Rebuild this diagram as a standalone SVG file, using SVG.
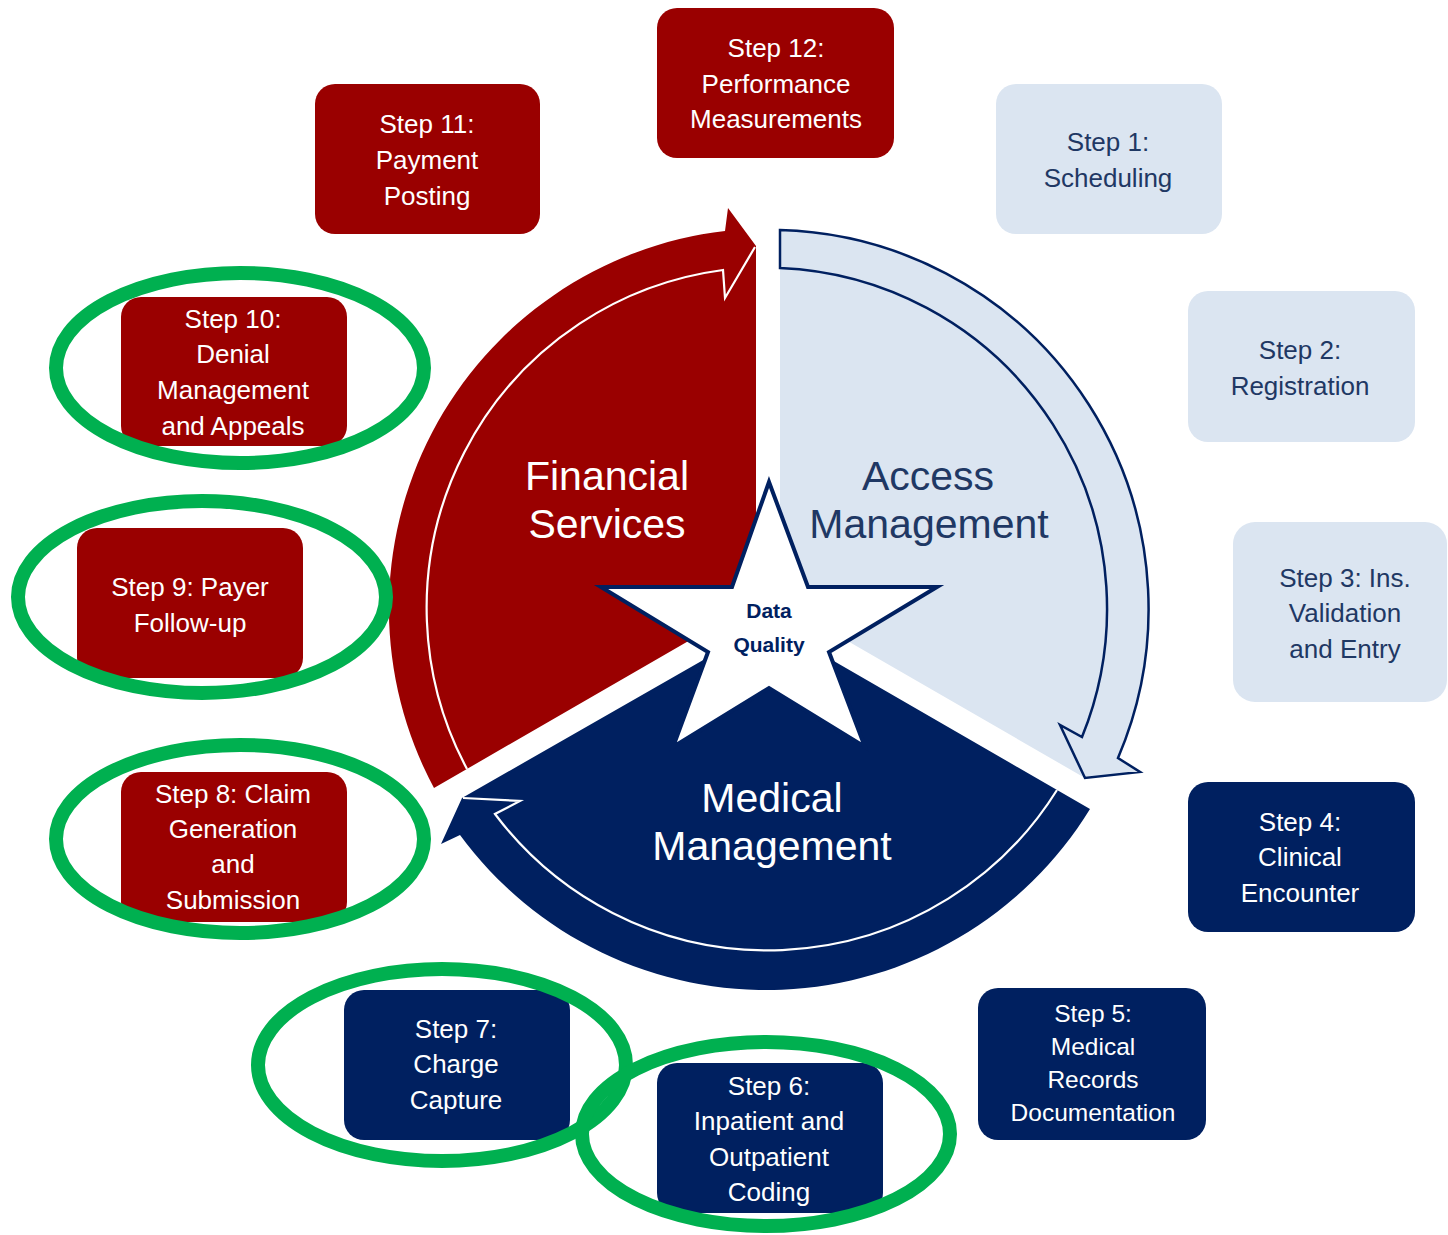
<svg xmlns="http://www.w3.org/2000/svg" width="1448" height="1235" viewBox="0 0 1448 1235">
<style>
.bg{fill:#ffffff}
.red{fill:#9a0000}
.navy{fill:#002060}
.lb{fill:#dbe5f1}
.t{font-family:"Liberation Sans",Arial,sans-serif;font-size:26px;text-anchor:middle}
.t5{font-size:24.5px}
.big{font-family:"Liberation Sans",Arial,sans-serif;font-size:41px;text-anchor:middle}
.tw{fill:#ffffff}
.tn{fill:#1f3864}
.inner{fill:none;stroke:#ffffff;stroke-width:2.2;stroke-linejoin:miter}
.outline{fill:none;stroke:#002060;stroke-width:2.5;stroke-linejoin:miter}
.ring{fill:none;stroke:#00b050;stroke-width:14}
.star{fill:#ffffff;stroke:#002060;stroke-width:4;stroke-linejoin:miter}
.sq{font-family:"Liberation Sans",Arial,sans-serif;font-size:21px;font-weight:bold;fill:#002060;text-anchor:middle}
</style>
<rect class="bg" x="0" y="0" width="1448" height="1235"/>

<g id="sector-financial">
<path class="red" d="M 756 602 L 434 788 A 380 380 0 0 1 725 231 L 728 208 L 756 246 Z"/>
</g>
<g id="sector-access">
<path class="lb" d="M 780 602 L 780 230 A 379 379 0 0 1 1118 758 L 1140 772 L 1085 778 Z"/>
</g>
<g id="sector-medical">
<path class="navy" d="M 768 623 L 1090 809 A 380 380 0 0 1 460 835 L 441 844 L 462 798 Z"/>
</g>

<g id="connectors">
<path class="inner" d="M 467 769 A 341 341 0 0 1 723 270 L 725 298 L 755 247"/>
<path class="outline" d="M 780 268 L 780 230 A 379 379 0 0 1 1118 758 L 1140 772 L 1085 778 L 1060 725 L 1082 737 A 341 341 0 0 0 780 268 Z"/>
<path class="inner" d="M 1057 790 A 341 341 0 0 1 495 814 L 520 801 L 463 798"/>
</g>

<g id="labels-sectors">
<text class="big tw" x="607" y="490">Financial</text>
<text class="big tw" x="607" y="538">Services</text>
<text class="big tn" x="928" y="490">Access</text>
<text class="big tn" x="929" y="538">Management</text>
<text class="big tw" x="772" y="812">Medical</text>
<text class="big tw" x="772" y="860">Management</text>
</g>

<g id="data-quality">
<path class="star" d="M 769 482 L 808 587 L 937 587 L 829 652 L 865 747 L 769 688 L 673 747 L 708 652 L 601 587 L 732 587 Z"/>
<text class="sq" x="769" y="618">Data</text>
<text class="sq" x="769" y="652">Quality</text>
</g>

<g id="step12">
<rect class="red" x="657" y="8" width="237" height="150" rx="20"/>
<text class="t tw" x="776" y="57">Step 12:</text>
<text class="t tw" x="776" y="93">Performance</text>
<text class="t tw" x="776" y="128">Measurements</text>
</g>
<g id="step11">
<rect class="red" x="315" y="84" width="225" height="150" rx="20"/>
<text class="t tw" x="427" y="133">Step 11:</text>
<text class="t tw" x="427" y="169">Payment</text>
<text class="t tw" x="427" y="205">Posting</text>
</g>
<g id="step1">
<rect class="lb" x="996" y="84" width="226" height="150" rx="20"/>
<text class="t tn" x="1108" y="151">Step 1:</text>
<text class="t tn" x="1108" y="187">Scheduling</text>
</g>
<g id="step2">
<rect class="lb" x="1188" y="291" width="227" height="151" rx="20"/>
<text class="t tn" x="1300" y="359">Step 2:</text>
<text class="t tn" x="1300" y="395">Registration</text>
</g>
<g id="step3">
<rect class="lb" x="1233" y="522" width="214" height="180" rx="22"/>
<text class="t tn" x="1345" y="587">Step 3: Ins.</text>
<text class="t tn" x="1345" y="622">Validation</text>
<text class="t tn" x="1345" y="658">and Entry</text>
</g>
<g id="step4">
<rect class="navy" x="1188" y="782" width="227" height="150" rx="20"/>
<text class="t tw" x="1300" y="831">Step 4:</text>
<text class="t tw" x="1300" y="866">Clinical</text>
<text class="t tw" x="1300" y="902">Encounter</text>
</g>
<g id="step5">
<rect class="navy" x="978" y="988" width="228" height="152" rx="20"/>
<text class="t t5 tw" x="1093" y="1022">Step 5:</text>
<text class="t t5 tw" x="1093" y="1055">Medical</text>
<text class="t t5 tw" x="1093" y="1088">Records</text>
<text class="t t5 tw" x="1093" y="1121">Documentation</text>
</g>
<g id="step6">
<rect class="navy" x="657" y="1063" width="226" height="150" rx="20"/>
<text class="t tw" x="769" y="1095">Step 6:</text>
<text class="t tw" x="769" y="1130">Inpatient and</text>
<text class="t tw" x="769" y="1166">Outpatient</text>
<text class="t tw" x="769" y="1201">Coding</text>
</g>
<g id="step7">
<rect class="navy" x="344" y="990" width="226" height="150" rx="20"/>
<text class="t tw" x="456" y="1038">Step 7:</text>
<text class="t tw" x="456" y="1073">Charge</text>
<text class="t tw" x="456" y="1109">Capture</text>
</g>
<g id="step8">
<rect class="red" x="121" y="772" width="226" height="150" rx="20"/>
<text class="t tw" x="233" y="803">Step 8: Claim</text>
<text class="t tw" x="233" y="838">Generation</text>
<text class="t tw" x="233" y="873">and</text>
<text class="t tw" x="233" y="909">Submission</text>
</g>
<g id="step9">
<rect class="red" x="77" y="528" width="226" height="150" rx="20"/>
<text class="t tw" x="190" y="596">Step 9: Payer</text>
<text class="t tw" x="190" y="632">Follow-up</text>
</g>
<g id="step10">
<rect class="red" x="121" y="297" width="226" height="149" rx="20"/>
<text class="t tw" x="233" y="328">Step 10:</text>
<text class="t tw" x="233" y="363">Denial</text>
<text class="t tw" x="233" y="399">Management</text>
<text class="t tw" x="233" y="435">and Appeals</text>
</g>

<g id="highlights">
<ellipse class="ring" cx="240" cy="368" rx="184" ry="95"/>
<ellipse class="ring" cx="202" cy="597" rx="184" ry="96"/>
<ellipse class="ring" cx="240" cy="839" rx="184" ry="94"/>
<ellipse class="ring" cx="442" cy="1065" rx="184" ry="96"/>
<ellipse class="ring" cx="766" cy="1134" rx="184" ry="92"/>
</g>
</svg>
